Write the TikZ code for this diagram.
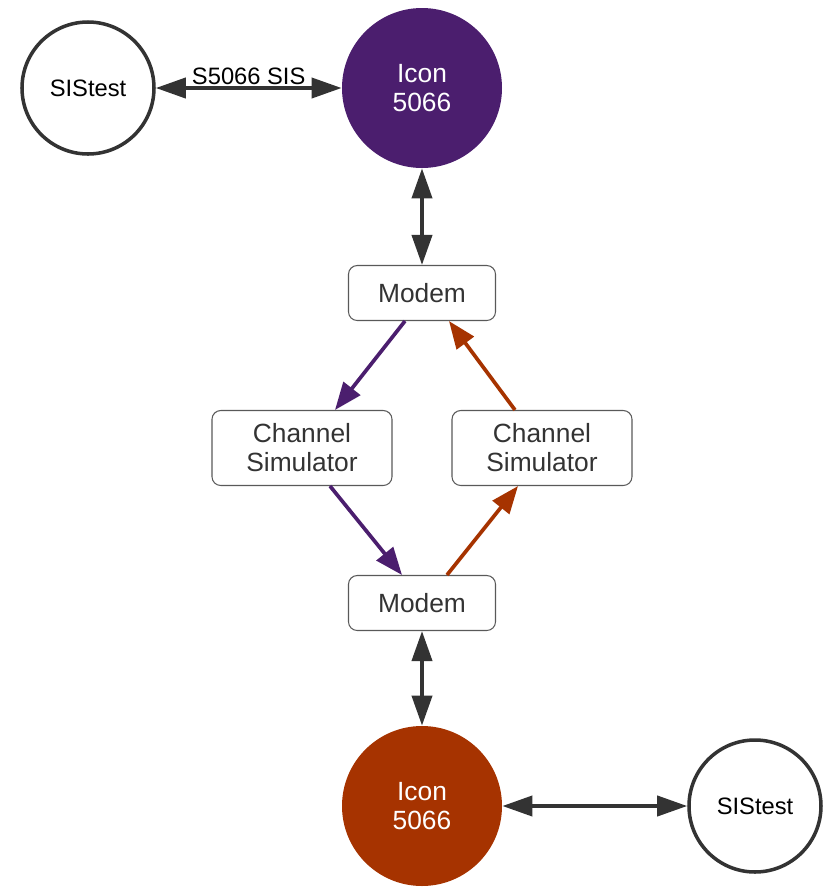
\documentclass[tikz,border=0pt]{standalone}
\usepackage{fontspec}
\setmainfont{Liberation Sans}
\usepackage{tikz}
\usetikzlibrary{arrows.meta,positioning}
\definecolor{iconpurple}{HTML}{4B1E6E}
\definecolor{iconorange}{HTML}{A63300}
\definecolor{darkline}{HTML}{333333}

\begin{document}
\begin{tikzpicture}[auto, >={Triangle[length=0.6cm,width=0.4cm]},
  font=\fontsize{13.5pt}{16.5pt}\selectfont,
  testnode/.style={circle, draw=darkline, line width=2pt, fill=white, minimum size=2.64cm, inner sep=0pt, text=black},
  iconnode/.style={circle, minimum size=3.2cm, inner sep=0pt, text=white, align=center, font=\fontsize{15pt}{16.5pt}\selectfont},
  boxnode/.style={rectangle, rounded corners=5pt, draw=black!65, line width=0.6pt, text=darkline, align=center, font=\fontsize{15pt}{16.5pt}\selectfont},
  link/.style={<->, draw=darkline, line width=2.2pt},
  flow/.style={->, line width=2.1pt, >={Triangle[length=0.55cm,width=0.42cm]}}]

  \useasboundingbox (0,0) rectangle (16.54,-17.74);

  % Define coordinates for nodes
  \node[testnode] (T1) at (1.76, -1.76) {SIStest};
  \node[iconnode, fill=iconpurple] (I1) at (8.44, -1.76) {Icon\\5066};
  \node[boxnode, minimum width=2.94cm, minimum height=1.1cm] (M1) at (8.44, -5.86) {Modem};
  \node[boxnode, minimum width=3.6cm, minimum height=1.5cm] (CL) at (6.04, -8.96) {Channel\\Simulator};
  \node[boxnode, minimum width=3.6cm, minimum height=1.5cm] (CR) at (10.84, -8.96) {Channel\\Simulator};
  \node[boxnode, minimum width=2.94cm, minimum height=1.1cm] (M2) at (8.44, -12.06) {Modem};
  \node[iconnode, fill=iconorange] (I2) at (8.44, -16.12) {Icon\\5066};
  \node[testnode] (T2) at (15.10, -16.12) {SIStest};

  % Draw arrows between nodes
  \draw[link] (T1) to node[midway, above, inner sep=1pt] {S5066 SIS} (I1);
  \draw[link] (I1) to (M1);
  \draw[flow, draw=iconpurple, fill=iconpurple] ([xshift=-0.34cm]M1.south) to ([xshift=0.66cm]CL.north);
  \draw[flow, draw=iconorange, fill=iconorange] ([xshift=-0.54cm]CR.north) to ([xshift=0.54cm]M1.south);
  \draw[flow, draw=iconpurple, fill=iconpurple] ([xshift=0.56cm]CL.south) to ([xshift=-0.4cm]M2.north);
  \draw[flow, draw=iconorange, fill=iconorange] ([xshift=0.5cm]M2.north) to ([xshift=-0.48cm]CR.south);
  \draw[link] (M2) to (I2);
  \draw[link] (I2) to (T2);
\end{tikzpicture}
\end{document}
